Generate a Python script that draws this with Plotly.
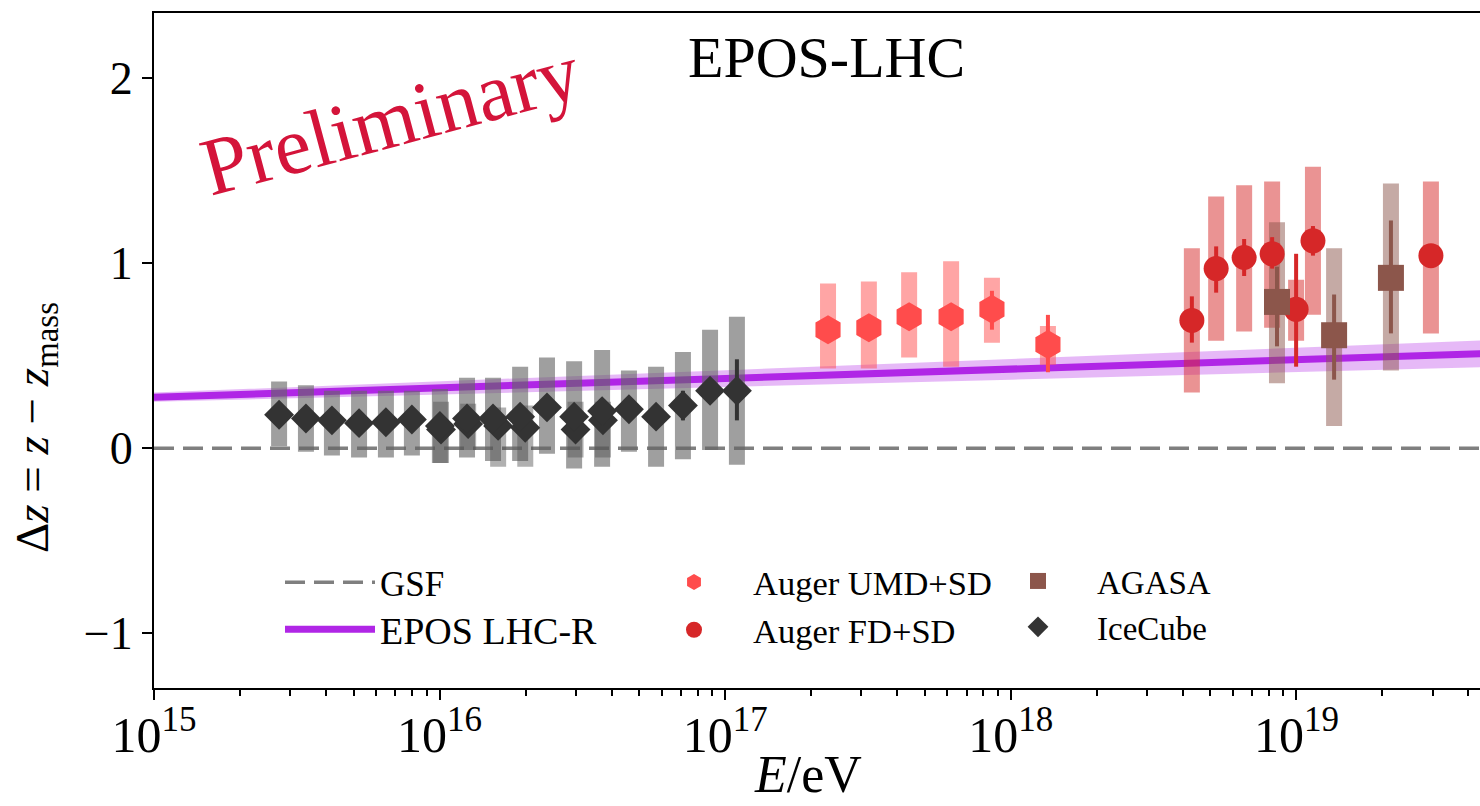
import plotly.graph_objects as go

SERIF = "Liberation Serif"

# ---------------- data (log10(E/eV), Delta z) ----------------
# IceCube (main set)
ice_logE = [15.438, 15.532, 15.623, 15.718, 15.812, 15.903, 16.001, 16.096, 16.187,
            16.282, 16.376, 16.471, 16.569, 16.663, 16.758, 16.852, 16.947, 17.041]
ice_dz = [0.18, 0.16, 0.15, 0.135, 0.14, 0.155, 0.12, 0.16, 0.16,
          0.17, 0.22, 0.17, 0.20, 0.21, 0.17, 0.23, 0.31, 0.31]
ice_stat_up = [0.02, 0.02, 0.02, 0.02, 0.02, 0.02, 0.02, 0.02, 0.02,
               0.02, 0.02, 0.02, 0.03, 0.03, 0.03, 0.08, 0.06, 0.17]
ice_stat_dn = [0.02, 0.02, 0.02, 0.02, 0.02, 0.02, 0.02, 0.02, 0.02,
               0.02, 0.02, 0.02, 0.03, 0.03, 0.03, 0.08, 0.06, 0.16]
ice_sys_hi = [0.36, 0.34, 0.31, 0.31, 0.31, 0.31, 0.32, 0.38, 0.38,
              0.44, 0.49, 0.47, 0.53, 0.42, 0.44, 0.52, 0.64, 0.71]
ice_sys_lo = [0.01, -0.02, -0.04, -0.05, -0.05, -0.04, -0.08, -0.05, -0.07,
              -0.07, -0.03, -0.11, -0.10, -0.02, -0.10, -0.06, -0.01, -0.09]

# IceCube (second, overlapping set)
ice2_logE = [16.005, 16.100, 16.205, 16.300, 16.476, 16.572]
ice2_dz = [0.10, 0.13, 0.12, 0.11, 0.10, 0.15]
ice2_sys_hi = [0.25, 0.24, 0.22, 0.23, 0.25, 0.25]
ice2_sys_lo = [-0.08, -0.01, -0.10, -0.10, -0.05, -0.05]

# Auger UMD+SD
umd_logE = [17.360, 17.503, 17.644, 17.791, 17.934, 18.130]
umd_dz = [0.64, 0.65, 0.71, 0.71, 0.75, 0.56]
umd_stat_up = [0.03, 0.03, 0.03, 0.03, 0.10, 0.16]
umd_stat_dn = [0.03, 0.03, 0.03, 0.03, 0.11, 0.15]
umd_sys_hi = [0.89, 0.90, 0.95, 1.01, 0.92, 0.66]
umd_sys_lo = [0.43, 0.43, 0.49, 0.44, 0.57, 0.45]

# Auger FD+SD
fd_logE = [18.634, 18.719, 18.817, 18.915, 18.999, 19.058, 19.471]
fd_dz = [0.69, 0.97, 1.03, 1.05, 0.75, 1.12, 1.04]
fd_stat_hi = [0.82, 1.09, 1.13, 1.14, 1.05, 1.20, 1.07]
fd_stat_lo = [0.57, 0.84, 0.93, 0.97, 0.44, 1.04, 1.01]
fd_sys_hi = [1.08, 1.36, 1.42, 1.44, 0.91, 1.52, 1.44]
fd_sys_lo = [0.30, 0.58, 0.63, 0.65, 0.58, 0.72, 0.62]

# AGASA
ag_logE = [18.932, 19.132, 19.331]
ag_dz = [0.79, 0.61, 0.92]
ag_stat_hi = [0.98, 0.83, 1.23]
ag_stat_lo = [0.55, 0.37, 0.62]
ag_sys_hi = [1.22, 1.08, 1.43]
ag_sys_lo = [0.35, 0.12, 0.42]

# EPOS LHC-R prediction
epos_logE = [15.0, 16.0, 17.0, 18.0, 19.0, 19.7]
epos_dz = [0.275, 0.326, 0.376, 0.427, 0.478, 0.513]
epos_hi = [0.30, 0.36, 0.42, 0.48, 0.54, 0.585]
epos_lo = [0.25, 0.29, 0.33, 0.37, 0.41, 0.44]

# GSF reference
gsf_logE = [15.0, 19.7]
gsf_dz = [0.0, 0.0]

# axis ticks
x_major_exp = [15, 16, 17, 18, 19]
y_major = [-1, 0, 1, 2]
y_major_text = ["\u22121", "0", "1", "2"]
minor_mult = [2, 3, 4, 5, 6, 7, 8, 9]


def E(logs):
    return [10.0 ** v for v in logs]


def sys_trace(logE, y, lo, hi, color, thick):
    return go.Scatter(
        x=E(logE), y=y, mode="markers",
        marker=dict(size=1, opacity=0),
        error_y=dict(type="data", symmetric=False,
                     array=[h - v for h, v in zip(hi, y)],
                     arrayminus=[v - l for v, l in zip(y, lo)],
                     color=color, thickness=thick, width=0),
        showlegend=False, hoverinfo="skip")


fig = go.Figure()

# GSF dashed line
fig.add_trace(go.Scatter(x=E(gsf_logE), y=gsf_dz, mode="lines",
                         line=dict(color="#7f7f7f", width=3.5, dash="20px,9px"),
                         name="GSF", legend="legend"))

# EPOS band + line
fig.add_trace(go.Scatter(x=E(epos_logE) + E(epos_logE)[::-1], y=epos_hi + epos_lo[::-1],
                         fill="toself", fillcolor="rgba(176,38,230,0.32)",
                         line=dict(width=0), mode="lines", hoverinfo="skip", showlegend=False))
fig.add_trace(go.Scatter(x=E(epos_logE), y=epos_dz, mode="lines",
                         line=dict(color="#b026e6", width=7),
                         name="EPOS LHC-R", legend="legend2"))

# systematic bars
fig.add_trace(sys_trace(ice_logE, ice_dz, ice_sys_lo, ice_sys_hi, "rgba(100,100,100,0.62)", 16))
fig.add_trace(sys_trace(ice2_logE, ice2_dz, ice2_sys_lo, ice2_sys_hi, "rgba(80,80,80,0.45)", 16))
fig.add_trace(sys_trace(umd_logE, umd_dz, umd_sys_lo, umd_sys_hi, "rgba(255,76,76,0.5)", 16))
fig.add_trace(sys_trace(fd_logE, fd_dz, fd_sys_lo, fd_sys_hi, "rgba(214,39,40,0.5)", 16))
fig.add_trace(sys_trace(ag_logE, ag_dz, ag_sys_lo, ag_sys_hi, "rgba(140,86,75,0.5)", 16))

# data points with statistical errors
fig.add_trace(go.Scatter(
    x=E(umd_logE), y=umd_dz, mode="markers", name="Auger UMD+SD", legend="legend3",
    marker=dict(symbol="hexagon", size=29, color="#ff4c4c", line=dict(width=0)),
    error_y=dict(type="data", symmetric=False, array=umd_stat_up, arrayminus=umd_stat_dn,
                 color="#ff4c4c", thickness=4, width=0)))
fig.add_trace(go.Scatter(
    x=E(fd_logE), y=fd_dz, mode="markers", name="Auger FD+SD", legend="legend3",
    marker=dict(symbol="circle", size=25, color="#d62728", line=dict(width=0)),
    error_y=dict(type="data", symmetric=False,
                 array=[h - v for h, v in zip(fd_stat_hi, fd_dz)],
                 arrayminus=[v - l for v, l in zip(fd_dz, fd_stat_lo)],
                 color="#d62728", thickness=4, width=0)))
fig.add_trace(go.Scatter(
    x=E(ag_logE), y=ag_dz, mode="markers", name="AGASA", legend="legend4",
    marker=dict(symbol="square", size=26, color="#8c564b", line=dict(width=0)),
    error_y=dict(type="data", symmetric=False,
                 array=[h - v for h, v in zip(ag_stat_hi, ag_dz)],
                 arrayminus=[v - l for v, l in zip(ag_dz, ag_stat_lo)],
                 color="#8c564b", thickness=4, width=0)))
fig.add_trace(go.Scatter(
    x=E(ice2_logE), y=ice2_dz, mode="markers", showlegend=False, legend="legend4",
    marker=dict(symbol="diamond", size=23, color="#333333", line=dict(width=0))))
fig.add_trace(go.Scatter(
    x=E(ice_logE), y=ice_dz, mode="markers", name="IceCube", legend="legend4",
    marker=dict(symbol="diamond", size=23, color="#333333", line=dict(width=0)),
    error_y=dict(type="data", symmetric=False, array=ice_stat_up, arrayminus=ice_stat_dn,
                 color="#333333", thickness=4, width=0)))

# ---------------- layout ----------------
L, R, T, B = 154, 1480, 13, 688
PW, PH = R - L, B - T


def px(xp):
    return (xp - L) / PW


def py(yp):
    return (B - yp) / PH


legend_common = dict(bgcolor="rgba(0,0,0,0)", borderwidth=0, xanchor="left", yanchor="top",
                     font=dict(family=SERIF, size=33, color="black"), tracegroupgap=0,
                     itemsizing="trace", itemwidth=108)

fig.update_layout(
    width=1480, height=806,
    margin=dict(l=L, r=1480 - R, t=T, b=806 - B),
    paper_bgcolor="white", plot_bgcolor="white",
    font=dict(family=SERIF, color="black"),
    showlegend=True,
    legend=dict(legend_common, x=px(280), y=py(553), itemwidth=90,
                font=dict(family=SERIF, size=35, color="black")),
    legend2=dict(legend_common, x=px(280), y=py(598), itemwidth=90,
                 font=dict(family=SERIF, size=38, color="black")),
    legend3=dict(legend_common, x=px(635), y=py(553),
                 font=dict(family=SERIF, size=34.5, color="black")),
    legend4=dict(legend_common, x=px(979), y=py(553)),
    xaxis=dict(
        type="log", range=[15, 15 + PW / 285.6],
        showline=True, linecolor="black", linewidth=2, mirror=True,
        ticks="outside", ticklen=10, tickwidth=2, tickcolor="black",
        ticklabelstandoff=-8,
        tickvals=[10.0 ** e for e in x_major_exp],
        ticktext=["10<sup>%d</sup>" % e for e in x_major_exp],
        tickfont=dict(family=SERIF, size=50, color="black"),
        minor=dict(tickvals=[m * 10.0 ** e for e in x_major_exp for m in minor_mult],
                   ticks="outside", ticklen=6, tickwidth=1.5, tickcolor="black", showgrid=False),
        showgrid=False, zeroline=False),
    yaxis=dict(
        range=[-1.296, 2.351],
        showline=True, linecolor="black", linewidth=2, mirror=False,
        ticks="outside", ticklen=10, tickwidth=2, tickcolor="black",
        tickvals=y_major, ticktext=y_major_text,
        tickfont=dict(family=SERIF, size=46, color="black"),
        showgrid=False, zeroline=False),
    annotations=[
        dict(text="EPOS-LHC", x=px(826), y=py(58), xref="paper", yref="paper",
             xanchor="center", yanchor="middle",
             showarrow=False, font=dict(family=SERIF, size=58, color="black")),
        dict(text="Preliminary", x=px(390), y=py(120), xref="paper", yref="paper",
             xanchor="center", yanchor="middle",
             showarrow=False, textangle=-15,
             font=dict(family=SERIF, size=82, color="#d4143a")),
        dict(text="\u0394<i>z</i> = <i>z</i> \u2212 <i>z</i><sub>mass</sub>",
             x=px(35), y=py(428), xref="paper", yref="paper", showarrow=False,
             xanchor="center", yanchor="middle",
             textangle=-90, font=dict(family=SERIF, size=47, color="black")),
        dict(text="<i>E</i>/eV", x=px(808), y=py(774), xref="paper", yref="paper",
             xanchor="center", yanchor="middle",
             showarrow=False, font=dict(family=SERIF, size=52, color="black")),
    ],
)

fig.write_html("out.html")
